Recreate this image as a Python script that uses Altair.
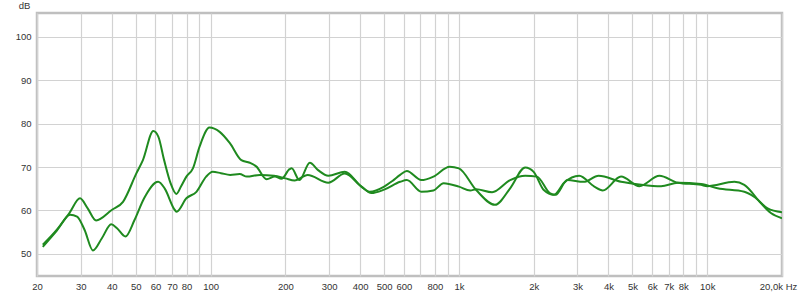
import altair as alt
import pandas as pd

# Curve A
freq_a = [21.1, 24, 27.0, 29.8, 32, 34.6, 40, 44.4, 50.3, 53.4, 58.8, 61.6, 65, 69, 72.8, 76,
          79.9, 84.9, 90.3, 99, 108.8, 119.6, 133, 143.8, 153, 168, 181.5, 193, 208, 212, 228,
          251, 271, 298, 347, 405, 438, 500, 540, 580, 617, 706, 789, 918, 1000, 1174, 1397,
          1608, 1849, 2000, 2197, 2414, 2654, 3050, 3510, 3794, 4496, 5330, 6418, 7616, 9448,
          10000, 12860, 14100, 16440, 18040, 20000]
db_a = [52.1, 55.5, 59.4, 62.8, 60.5, 57.7, 60.1, 62.0, 68.6, 71.6, 78.3, 77.0, 71.6, 66.3, 63.8, 65.5,
        67.8, 69.7, 74.7, 79.1, 78.1, 75.5, 71.6, 71.0, 70.1, 67.2, 67.8, 67.3, 69.5, 69.7, 67.0,
        71.0, 69.3, 68.0, 68.9, 65.5, 64.3, 65.5, 66.8, 68.2, 69.1, 67.0, 67.8, 70.1, 69.7, 64.7, 61.3,
        65.1, 69.9, 68.9, 64.7, 63.6, 66.4, 68.0, 65.5, 64.6, 67.8, 65.6, 68.0, 66.4, 65.9,
        65.6, 66.6, 65.9, 61.7, 59.4, 58.2]

# Curve B
freq_b = [21.1, 24, 27.2, 29, 31.1, 33.6, 36.5, 39.8, 42, 45.4, 49.4, 54, 61.5, 65.3, 71.8, 73,
          79.9, 87.7, 96, 102, 110, 120, 131, 140, 158, 180, 200, 218, 246, 298, 347, 405, 444,
          500, 580, 617, 706, 789, 868, 1000, 1111, 1174, 1360, 1608, 1849, 2062, 2322, 2450,
          2733, 3178, 3652, 4496, 5330, 6518, 7616, 9448, 11000, 14100, 15420, 17500, 20000]
db_b = [51.6, 55.3, 59.0, 58.6, 55.5, 50.8, 53.6, 56.8, 55.9, 54.0, 57.8, 62.8, 66.6, 65.1, 60.1, 59.7,
        62.8, 64.3, 67.8, 68.9, 68.6, 68.2, 68.4, 67.8, 68.2, 68.0, 67.4, 66.9, 68.2, 66.4, 68.5, 65.5, 64.0,
        64.8, 66.6, 67.0, 64.3, 64.6, 66.3, 65.5, 64.6, 64.9, 64.2, 67.0, 68.0, 67.8, 64.0, 63.6,
        67.0, 66.6, 68.0, 66.6, 66.0, 65.6, 66.4, 66.1, 65.1, 64.3, 63.2, 60.5, 59.6]

grid_freqs = [20, 30, 40, 50, 60, 70, 80, 90, 100, 200, 300, 400, 500, 600, 700, 800, 900,
              1000, 2000, 3000, 4000, 5000, 6000, 7000, 8000, 9000, 10000, 20000]
label_map = {20: "20", 30: "30", 40: "40", 50: "50", 60: "60", 70: "70", 80: "80", 100: "100",
             200: "200", 300: "300", 400: "400", 500: "500", 600: "600", 800: "800",
             1000: "1k", 2000: "2k", 3000: "3k", 4000: "4k", 5000: "5k", 6000: "6k",
             7000: "7k", 8000: "8k", 10000: "10k", 20000: "20,0k Hz"}
y_ticks = [50, 60, 70, 80, 90, 100]

df = pd.concat([
    pd.DataFrame({"f": freq_a, "db": db_a, "s": "A"}),
    pd.DataFrame({"f": freq_b, "db": db_b, "s": "B"}),
])

expr_parts = " : ".join(f"datum.value == {k} ? '{v}'" for k, v in label_map.items())
label_expr = expr_parts + " : ''"

chart = alt.Chart(df).mark_line(
    color="#1f8a1f", strokeWidth=2, interpolate="monotone", clip=True
).encode(
    x=alt.X("f:Q", scale=alt.Scale(type="log", domain=[20, 20000], nice=False),
            axis=alt.Axis(values=grid_freqs, labelExpr=label_expr, title=None, ticks=False,
                          domain=False, labelFlush=False, labelOverlap=False, labelPadding=5,
                          labelBound=False,
                          labelOffset={"condition": {"test": "datum.value == 20000", "value": -4},
                                       "value": 0},
                          gridColor="#d2d2d2", gridWidth=1.2)),
    y=alt.Y("db:Q", scale=alt.Scale(domain=[44.9, 105.5], nice=False, zero=False),
            axis=alt.Axis(values=y_ticks, title="dB", titleAngle=0, titleX=-13, titleY=-8,
                          titleAlign="center", titleBaseline="middle", titleFontWeight="normal",
                          titleFontSize=9.5, titleColor="#333", ticks=False, domain=False,
                          labelPadding=6, gridColor="#d2d2d2", gridWidth=1.2)),
    detail="s:N",
).properties(
    width=745, height=263,
    autosize=alt.AutoSizeParams(type="none"),
    padding={"left": 37, "top": 13, "right": 18, "bottom": 19},
).configure_view(
    stroke="#bfbfbf", strokeWidth=2.5
).configure_axis(
    labelFont="Liberation Sans", labelFontSize=9.5, labelColor="#333",
    titleFont="Liberation Sans"
)

chart.save("out.html", embed_options={"renderer": "svg", "actions": False})
